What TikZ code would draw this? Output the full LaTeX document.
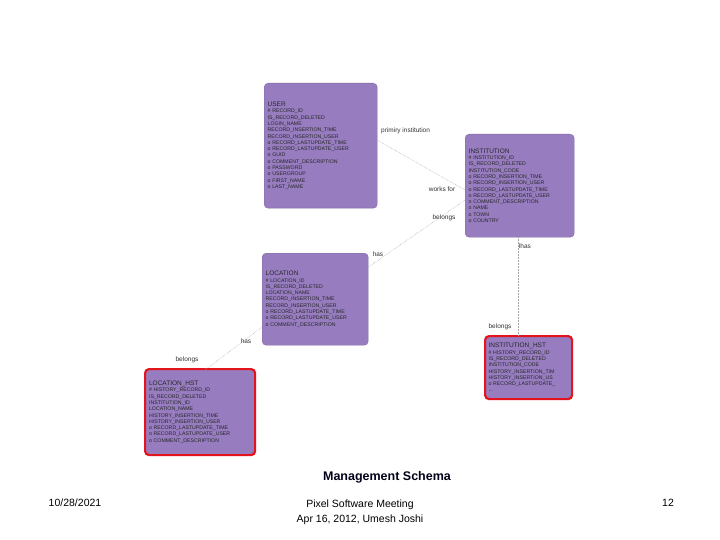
\documentclass[tikz,border=0pt]{standalone}
\usepackage{fontspec}
\setmainfont{Liberation Sans}
\usetikzlibrary{positioning}
\definecolor{entfill}{RGB}{151,125,192}
\definecolor{hstred}{RGB}{226,20,30}
\tikzset{
    ent/.style={draw=entfill!85!black, fill=entfill, rounded corners=4pt, anchor=north west,
        align=left, inner sep=3pt, font=\fontsize{5.2pt}{6.3pt}\selectfont, text=black!85},
    hst/.style={ent, draw=hstred, line width=2.2pt},
    rel/.style={draw=gray!70, densely dotted, line width=.5pt},
    lbl/.style={font=\fontsize{6.5pt}{7pt}\selectfont, text=black!80, inner sep=1pt}
}
\begin{document}
\begin{tikzpicture}[x=1pt,y=-1pt]
    \useasboundingbox[fill=white] (0,0) rectangle (720,540);

    % Entitaeten
    \node[ent, minimum width=113pt, minimum height=125pt, text width=106pt] (user) at (264,83)
        {{\fontsize{6.5pt}{7pt}\selectfont USER}\\
        \# RECORD\_ID\\ * IS\_RECORD\_DELETED\\ * LOGIN\_NAME\\ * RECORD\_INSERTION\_TIME\\
        * RECORD\_INSERTION\_USER\\ o RECORD\_LASTUPDATE\_TIME\\ o RECORD\_LASTUPDATE\_USER\\
        o GUID\\ o COMMENT\_DESCRIPTION\\ o PASSWORD\\ o USERGROUP\\ o FIRST\_NAME\\ o LAST\_NAME\\[26pt]};
    \node[ent, minimum width=109pt, minimum height=103pt, text width=102pt] (inst) at (465,134)
        {{\fontsize{6.5pt}{7pt}\selectfont INSTITUTION}\\
        \# INSTITUTION\_ID\\ * IS\_RECORD\_DELETED\\ * INSTITUTION\_CODE\\ o RECORD\_INSERTION\_TIME\\
        o RECORD\_INSERTION\_USER\\ o RECORD\_LASTUPDATE\_TIME\\ o RECORD\_LASTUPDATE\_USER\\
        o COMMENT\_DESCRIPTION\\ o NAME\\ o TOWN\\ o COUNTRY\\[14pt]};
    \node[ent, minimum width=106pt, minimum height=92pt, text width=99pt] (loc) at (262,253)
        {{\fontsize{6.5pt}{7pt}\selectfont LOCATION}\\
        \# LOCATION\_ID\\ * IS\_RECORD\_DELETED\\ * LOCATION\_NAME\\ * RECORD\_INSERTION\_TIME\\
        * RECORD\_INSERTION\_USER\\ o RECORD\_LASTUPDATE\_TIME\\ o RECORD\_LASTUPDATE\_USER\\
        o COMMENT\_DESCRIPTION\\[18pt]};
    \node[hst, minimum width=110pt, minimum height=86pt, text width=102pt] (lochst) at (144,368)
        {{\fontsize{6.5pt}{7pt}\selectfont LOCATION\_HST}\\
        \# HISTORY\_RECORD\_ID\\ * IS\_RECORD\_DELETED\\ * INSTITUTION\_ID\\ * LOCATION\_NAME\\
        * HISTORY\_INSERTION\_TIME\\ * HISTORY\_INSERTION\_USER\\ o RECORD\_LASTUPDATE\_TIME\\
        o RECORD\_LASTUPDATE\_USER\\ o COMMENT\_DESCRIPTION\\[2pt]};
    \node[hst, minimum width=87pt, minimum height=63pt, text width=80pt] (insthst) at (484,335)
        {{\fontsize{6.5pt}{7pt}\selectfont INSTITUTION\_HST}\\
        \# HISTORY\_RECORD\_ID\\ * IS\_RECORD\_DELETED\\ * INSTITUTION\_CODE\\
        * HISTORY\_INSERTION\_TIM\\ * HISTORY\_INSERTION\_US\\ o RECORD\_LASTUPDATE\_\\ ...};

    % Beziehungen
    \coordinate (u1) at (377,140);
    \coordinate (i1) at (465,190);
    \coordinate (l1) at (367,268);
    \coordinate (i2) at (465,200);
    \coordinate (l2) at (262,327);
    \coordinate (h1) at (205,370);
    \draw[rel] (u1) -- (i1);
    \draw[rel] (l1) -- (i2);
    \draw[rel] (inst.south -| 518,0) -- (insthst.north -| 518,0);
    \draw[rel] (l2) -- (h1);

    % Beschriftung
    \node[lbl, anchor=west] (lprim) at (380,131) {primiry institution};
    \node[lbl] (lworks) at (442,189) {works for};
    \node[lbl] (lbel1) at (444,218) {belongs};
    \node[lbl] (lhas1) at (378,254) {has};
    \node[lbl] (lhas2) at (525,246) {lhas};
    \node[lbl] (lbel2) at (500,327) {belongs};
    \node[lbl] (lhas3) at (246,341) {has};
    \node[lbl] (lbel3) at (187,360) {belongs};

    % Fusszeile
    \node[font=\bfseries\fontsize{12.5pt}{14pt}\selectfont, text=black!90!blue] (title) at (387,477) {Management Schema};
    \node[font=\fontsize{10.5pt}{12pt}\selectfont] (date) at (75,503) {10/28/2021};
    \node[font=\fontsize{10.5pt}{15pt}\selectfont, align=center] (meet) at (360,512) {Pixel Software Meeting\\Apr 16, 2012, Umesh Joshi};
    \node[font=\fontsize{10.5pt}{12pt}\selectfont] (page) at (668,503) {12};
\end{tikzpicture}
\end{document}
